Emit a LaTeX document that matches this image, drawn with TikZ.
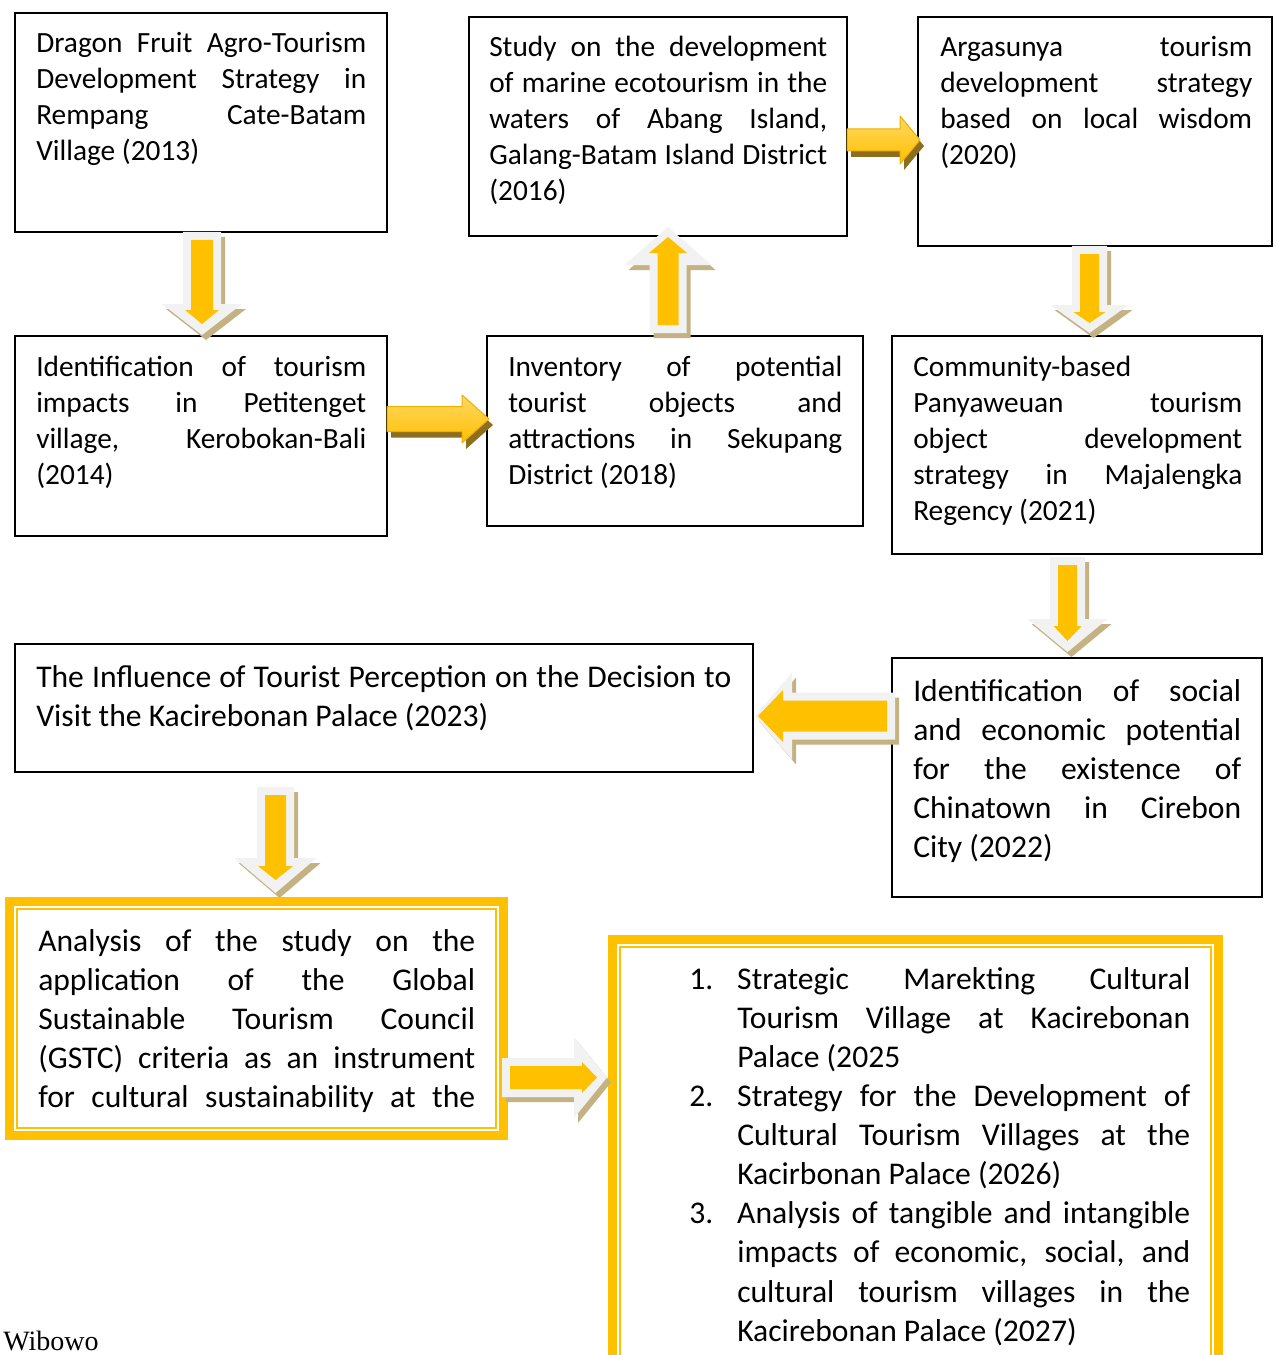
\documentclass[tikz,border=0pt]{standalone}
\usepackage{fontspec}
\setmainfont{Carlito}
\newfontfamily\wfont{Liberation Serif}
\usetikzlibrary{fit,calc}
\definecolor{gold}{HTML}{FFC000}
\definecolor{goldl}{HTML}{FFD863}
\definecolor{goldd}{HTML}{EDB000}
\definecolor{grayc}{HTML}{F2F2F2}
\definecolor{tanc}{HTML}{C4B283}
\definecolor{shadowc}{HTML}{8C6E1E}
\newcommand\jl[1]{\makebox[\hsize][s]{\spaceskip=0pt\xspaceskip=0pt #1}\\}
\newcommand\jend[1]{{\spaceskip=0pt\xspaceskip=0pt #1}}
\newcommand\jnum[2]{\makebox[36pt][l]{#1}\makebox[339.75pt][s]{\spaceskip=0pt\xspaceskip=0pt #2}\\}
\newcommand\jcont[1]{\hspace*{36pt}\makebox[339.75pt][s]{\spaceskip=0pt\xspaceskip=0pt #1}\\}
\newcommand\jlast[1]{\hspace*{36pt}\jend{#1}\\}
% outlined block arrow: start, rotation, length, head length, shaft half, head half, inner head half, inner base offset, inner tip offset
\newcommand\oarrow[9]{%
  \begin{scope}[shift={#1}]
    \begin{scope}[shift={(4,5)},rotate=#2]
      \fill[tanc] (0,-#5) -- ({#3-#4},-#5) -- ({#3-#4},-#6) -- (#3,0) -- ({#3-#4},#6) -- ({#3-#4},#5) -- (0,#5) -- cycle;
    \end{scope}
    \begin{scope}[rotate=#2]
      \fill[grayc] (0,-#5) -- ({#3-#4},-#5) -- ({#3-#4},-#6) -- (#3,0) -- ({#3-#4},#6) -- ({#3-#4},#5) -- (0,#5) -- cycle;
      \fill[gold] (8,{-(#5-8)}) -- ({#3-#4+#8},{-(#5-8)}) -- ({#3-#4+#8},-#7) -- ({#3-#9},0) -- ({#3-#4+#8},#7) -- ({#3-#4+#8},{#5-8}) -- (8,{#5-8}) -- cycle;
    \end{scope}
  \end{scope}}
% glossy arrow pointing right: start, length, head length, shaft half, head half
\newcommand\garrow[5]{%
  \begin{scope}[shift={#1}]
    \fill[shadowc,shift={(4,6)}] (0,-#4) -- ({#2-#3},-#4) -- ({#2-#3},-#5) -- (#2,0) -- ({#2-#3},#5) -- ({#2-#3},#4) -- (0,#4) -- cycle;
    \shade[top color=goldl, bottom color=gold] (0,-#4) -- ({#2-#3},-#4) -- ({#2-#3},-#5) -- (#2,0) -- ({#2-#3},#5) -- ({#2-#3},#4) -- (0,#4) -- cycle;
    \draw[goldd, line width=0.75pt, line join=round] (0,-#4) -- ({#2-#3},-#4) -- ({#2-#3},-#5) -- (#2,0) -- ({#2-#3},#5) -- ({#2-#3},#4) -- (0,#4) -- cycle;
  \end{scope}}
\begin{document}
\begin{tikzpicture}[x=0.75pt,y=-0.75pt,
  box/.style={draw=black, line width=1.5pt, inner sep=0pt, outer sep=0pt},
  dbox/.style={draw=gold, line width=6.75pt, inner sep=0pt, outer sep=0pt},
  small/.style={anchor=base west, inner sep=0pt, align=left, font=\fontsize{22}{27}\selectfont, text width=#1},
  big/.style={anchor=base west, inner sep=0pt, align=left, font=\fontsize{23.7}{29.3}\selectfont, text width=#1}]
\clip (0,0) rectangle (1277,1355);
\fill[white] (0,0) rectangle (1277,1355);

% boxes
\node[box, fit={(15,13)(387,232)}] (A) {};
\node[box, fit={(469,17)(847,236)}] (B) {};
\node[box, fit={(918,17)(1272,246)}] (C) {};
\node[box, fit={(15,336)(387,536)}] (D) {};
\node[box, fit={(487,336)(863,526)}] (E) {};
\node[box, fit={(892,336)(1262,554)}] (F) {};
\node[box, fit={(15,644)(753,772)}] (G) {};
\node[box, fit={(892,658)(1262,897)}] (H) {};
\node[dbox, fit={(9.5,901.5)(503.5,1135.5)}] (I) {};
\node[dbox, fit={(612.5,939.5)(1218.5,1420)}] (J) {};
\draw[gold, line width=1.5pt] ([shift={(7.5,7.5)}]I.north west) rectangle ([shift={(-7.5,-7.5)}]I.south east);
\draw[gold, line width=1.5pt] ([shift={(7.5,7.5)}]J.north west) rectangle ([shift={(-7.5,-7.5)}]J.south east);

% texts
\node[small=247.5pt] (At) at ([shift={(21,40)}]A.north west)
  {\jl{Dragon Fruit Agro-Tourism}\jl{Development Strategy in}\jl{Rempang Cate-Batam}\jend{Village (2013)}};
\node[small=253.5pt] (Bt) at ([shift={(20,40)}]B.north west)
  {\jl{Study on the development}\jl{of marine ecotourism in the}\jl{waters of Abang Island,}\jl{Galang-Batam Island District}(2016)};
\node[small=234pt] (Ct) at ([shift={(22,40)}]C.north west)
  {\jl{Argasunya tourism}\jl{development strategy}\jl{based on local wisdom}(2020)};
\node[small=247.5pt] (Dt) at ([shift={(21,40)}]D.north west)
  {\jl{Identification of tourism}\jl{impacts in Petitenget}\jl{village, Kerobokan-Bali}(2014)};
\node[small=250.5pt] (Et) at ([shift={(21,40)}]E.north west)
  {\jl{Inventory of potential}\jl{tourist objects and}\jl{attractions in Sekupang}\jend{District (2018)}};
\node[small=246.75pt] (Ft) at ([shift={(21,40)}]F.north west)
  {Community-based\\\jl{Panyaweuan tourism}\jl{object development}\jl{strategy in Majalengka}\jend{Regency (2021)}};
\node[big=521.25pt] (Gt) at ([shift={(21,43.5)}]G.north west)
  {\jl{The Influence of Tourist Perception on the Decision to}\jend{Visit the Kacirebonan Palace (2023)}};
\node[big=246pt] (Ht) at ([shift={(21,43.5)}]H.north west)
  {\jl{Identification of social}\jl{and economic potential}\jl{for the existence of}\jl{Chinatown in Cirebon}\jend{City (2022)}};
\node[big=327.75pt] (It) at ([shift={(28.5,50)}]I.north west)
  {\jl{Analysis of the study on the}\jl{application of the Global}\jl{Sustainable Tourism Council}\jl{(GSTC) criteria as an instrument}\makebox[\hsize][s]{\spaceskip=0pt\xspaceskip=0pt for cultural sustainability at the}};
\node[big=375.75pt] (Jt) at ([shift={(76.5,50)}]J.north west)
  {\jnum{1.}{Strategic Marekting Cultural}\jcont{Tourism Village at Kacirebonan}\jlast{Palace (2025}%
   \jnum{2.}{Strategy for the Development of}\jcont{Cultural Tourism Villages at the}\jlast{Kacirbonan Palace (2026)}%
   \jnum{3.}{Analysis of tangible and intangible}\jcont{impacts of economic, social, and}\jcont{cultural tourism villages in the}\hspace*{36pt}\jend{Kacirebonan Palace (2027)}};
\node[anchor=base west, inner sep=0pt, font=\wfont\fontsize{21}{25}\selectfont] (W) at (3,1350) {Wibowo};

% arrows
\oarrow{($(A.south)+(1,0)$)}{-90}{103}{31}{19}{40}{17}{6}{11}
\garrow{($(D.east)+(0,-17)$)}{102}{27}{12.5}{24}
\oarrow{($(E.north)+(-7,-3)$)}{90}{106}{38}{18.5}{43.5}{19}{12}{10}
\garrow{($(B.east)+(0,13.5)$)}{73}{20}{11}{24}
\oarrow{($(C.south)+(-5.5,0)$)}{-90}{87}{28}{17.5}{39}{16}{7}{10}
\oarrow{($(F.south)+(-9.5,3)$)}{-90}{95}{33}{17.5}{40}{14}{7}{11}
\oarrow{($(H.north west)+(3,58)$)}{180}{140}{37}{23.5}{43.5}{26}{9}{3}
\oarrow{($(G.south west)+(260.5,15)$)}{-90}{106}{35}{18.5}{41}{17.5}{8}{13}
\oarrow{($(I.east)+(-1.5,59)$)}{0}{105}{33}{19.5}{40.5}{15.5}{8}{10}
\end{tikzpicture}
\end{document}
